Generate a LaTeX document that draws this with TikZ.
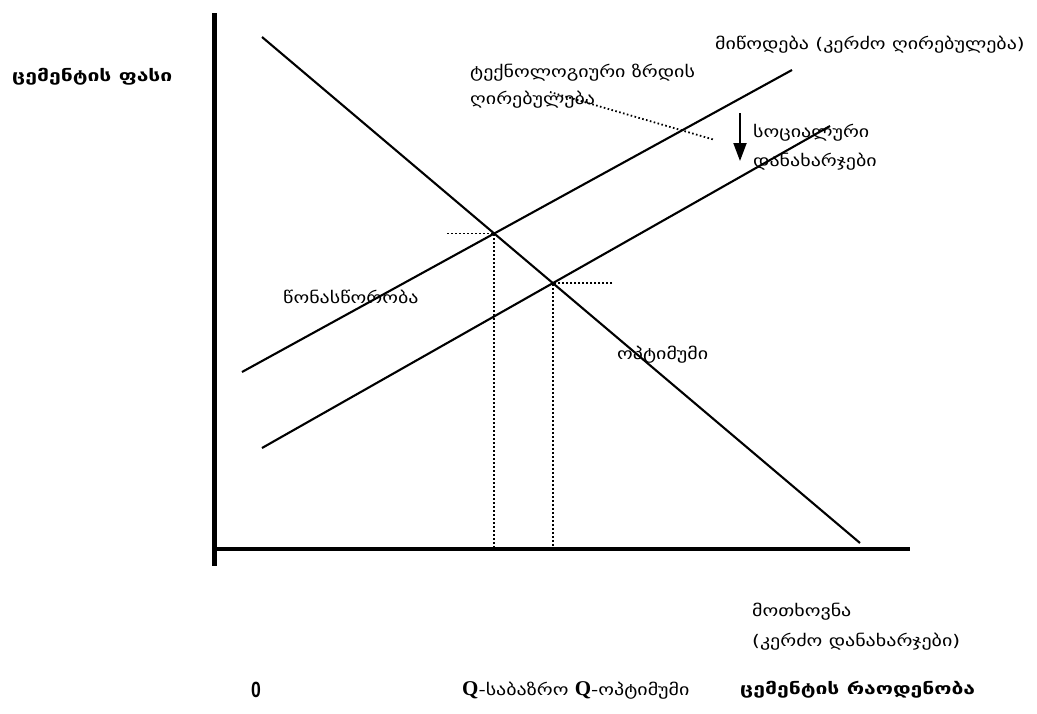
\documentclass[tikz,border=0pt]{standalone}
\usepackage{fontspec}
\setmainfont{DejaVu Sans}[FakeStretch=1.25]
\newfontfamily\boldgeo{DejaVu Sans}[FakeStretch=1.32]
\newfontfamily\qfont{Liberation Serif}
\newfontfamily\zfont{Liberation Sans}[FakeStretch=0.8]
\usetikzlibrary{arrows.meta,intersections}
\newcommand{\bigQ}{{\qfont\bfseries\fontsize{21}{23}\selectfont Q}}
\begin{document}
\begin{tikzpicture}[x=1pt,y=-1pt,
  axisline/.style={line width=4.5pt},
  curve/.style={line width=2.1pt},
  guide/.style={line width=1.8pt,dash pattern=on 1.6pt off 2.4pt},
  lbl/.style={anchor=west,inner sep=0pt,font=\fontsize{16}{19}\selectfont},
  blbl/.style={anchor=west,inner sep=0pt,font=\boldgeo\fontsize{16}{19}\selectfont\bfseries}]
\useasboundingbox (0,0) rectangle (1037,713);
% axes
\coordinate (ytop) at (214.5,13);
\coordinate (ybot) at (214.5,566);
\coordinate (xl) at (212,549);
\coordinate (xr) at (910,549);
\draw[axisline] (ytop) -- (ybot);
\draw[axisline] (xl) -- (xr);
% curves
\coordinate (d1) at (262,37);
\coordinate (d2) at (860,543);
\coordinate (s1) at (242,372);
\coordinate (s2) at (792,70);
\coordinate (c1) at (262,448);
\coordinate (c2) at (830,126);
\draw[curve,name path=dem] (d1) -- (d2);
\draw[curve,name path=sup] (s1) -- (s2);
\draw[curve,name path=soc] (c1) -- (c2);
\path[name intersections={of=dem and sup,by=eq}];
\path[name intersections={of=dem and soc,by=op}];
% guides
\coordinate (eqL) at (447,0 |- eq);
\coordinate (eqB) at (eq |- xl);
\coordinate (opR) at (612,0 |- op);
\coordinate (opB) at (op |- xl);
\draw[guide] (eqL) -- (eq) -- (eqB);
\draw[guide] (opR) -- (op) -- (opB);
% tech dotted
\coordinate (t1) at (550,92);
\coordinate (t2) at (715,140);
\draw[guide] (t1) -- (t2);
% arrow
\coordinate (a1) at (740,113);
\coordinate (a2) at (740,161);
\draw[line width=2pt,-{Triangle[length=18pt,width=13pt]}] (a1) -- (a2);
% labels
\node[blbl] (yl) at (12,77) {ცემენტის ფასი};
\node[lbl] (tech1) at (470,73) {ტექნოლოგიური ზრდის};
\node[lbl] (tech2) at (470,100) {ღირებულება};
\node[lbl] (supl) at (715,45) {მიწოდება (კერძო ღირებულება)};
\node[lbl] (soc1) at (753,133) {სოციალური};
\node[lbl] (soc2) at (753,162) {დანახარჯები};
\node[lbl] (eql) at (283,297) {წონასწორობა};
\node[lbl] (opl) at (617,355) {ოპტიმუმი};
\node[lbl] (dem1) at (752,612) {მოთხოვნა};
\node[lbl] (dem2) at (752,642) {(კერძო დანახარჯები)};
\node[anchor=west,inner sep=0pt,font=\zfont\bfseries\fontsize{22}{24}\selectfont] (zero) at (251,690) {0};
\node[lbl] (ql) at (462,690) {\bigQ-საბაზრო \bigQ-ოპტიმუმი};
\node[blbl] (xlab) at (740,690) {ცემენტის რაოდენობა};
\end{tikzpicture}
\end{document}
